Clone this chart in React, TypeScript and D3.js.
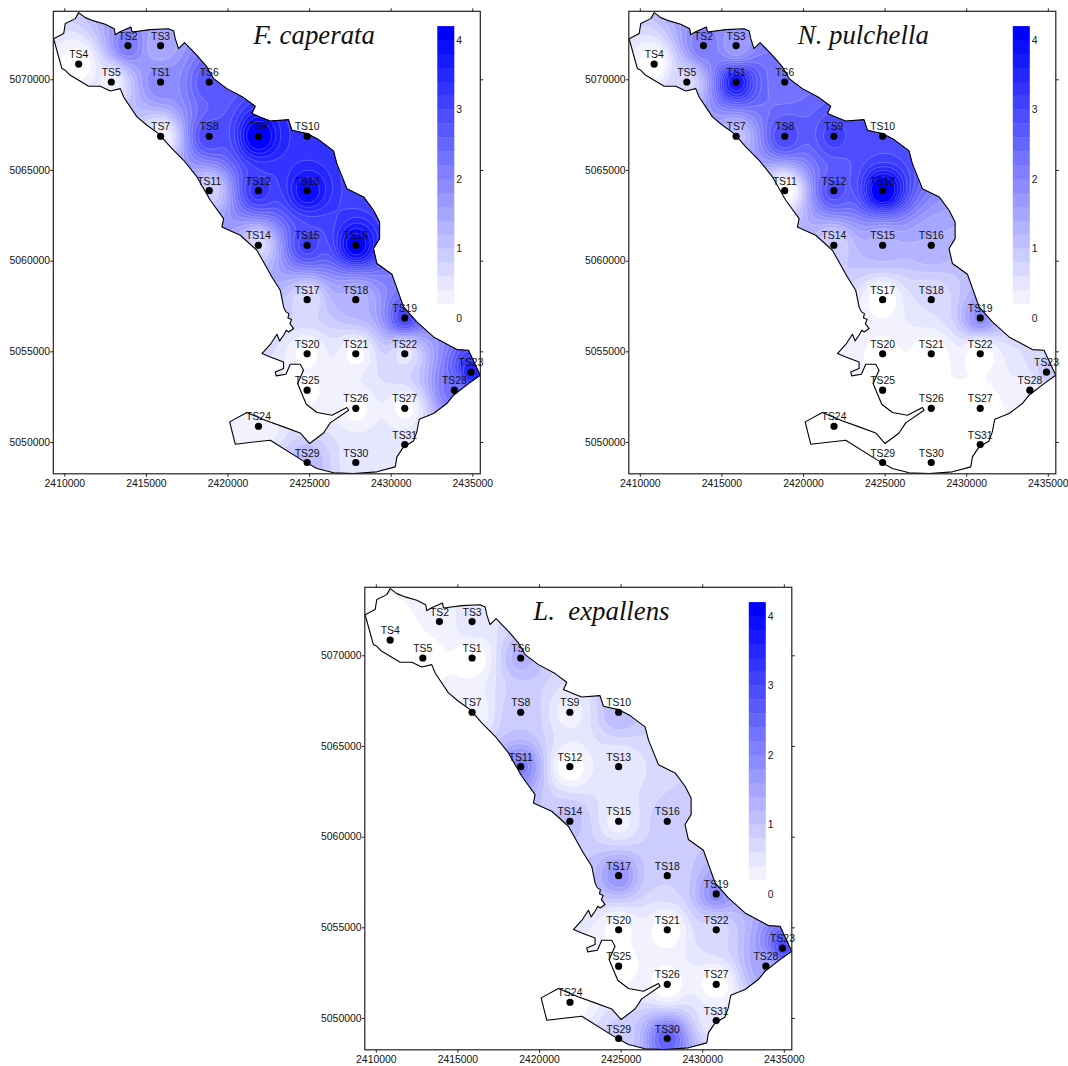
import React, { useEffect, useMemo, useRef } from "react";
import * as d3 from "d3";

// sampling stations (map metres)
const stationNames = ["TS1","TS2","TS3","TS4","TS5","TS6","TS7","TS8","TS9","TS10","TS11","TS12","TS13","TS14","TS15","TS16","TS17","TS18","TS19","TS20","TS21","TS22","TS23","TS24","TS25","TS26","TS27","TS28","TS29","TS30","TS31"];
const stationX = [2415900,2413900,2415900,2410880,2412880,2418880,2415900,2418880,2421890,2424880,2418880,2421890,2424880,2421890,2424880,2427860,2424880,2427860,2430860,2424880,2427860,2430860,2434920,2421900,2424880,2427860,2430860,2433900,2424880,2427860,2430860];
const stationY = [5069850,5071860,5071860,5070840,5069850,5069850,5066860,5066860,5066860,5066860,5063860,5063860,5063860,5060850,5060850,5060850,5057850,5057850,5056840,5054860,5054860,5054860,5053850,5050870,5052860,5051860,5051860,5052860,5048870,5048870,5049860];

// index of atmospheric purity per species, same order as stationNames
const caperata = [2.0,2.2,1.4,0,0.3,2.8,0.2,3.0,4.3,3.4,0.8,3.3,4.0,0.7,3.1,4.2,0.6,1.3,3.0,0.1,0.1,0.5,3.6,0.2,0.1,0.1,0.1,2.3,1.2,0.5,0.4];
const pulchella = [3.8,2.2,1.6,0,0.7,2.3,1.1,3.0,3.1,3.0,0,2.9,4.4,0.8,1.3,1.4,0,0.6,1.9,0.1,0,0,0.9,0.1,0.1,0,0,0.3,0.1,0,0];
const expallens = [0,0.25,0.6,0,0,1.3,0.2,1.0,0.3,1.2,2.1,0,0.4,1.1,0.3,0.9,1.8,0.8,1.9,0.1,0,0.7,2.9,0,0,0,0,1.5,0.9,2.6,0.4];

// coastline outline, map metres
const coast: [number, number][] = [
  [2410880,5073675],[2411290,5073400],[2411800,5073220],[2412510,5073030],[2413060,5072790],[2413120,5072460],[2413390,5072610],[2414080,5072885],[2414150,5072610],[2415270,5072740],
  [2416390,5072790],[2416700,5072665],[2416800,5072240],[2417000,5071690],[2417370,5072020],[2418130,5071320],[2418740,5070680],[2419150,5070040],[2419965,5069485],[2420985,5068990],
  [2421700,5068510],[2421500,5068110],[2422110,5067885],[2422620,5067700],[2423740,5067775],[2423950,5067190],[2424870,5067005],[2425580,5066675],[2426500,5066050],[2426700,5065350],
  [2427320,5063970],[2428340,5063515],[2428950,5062780],[2429320,5062135],[2429320,5061215],[2428950,5060665],[2429155,5059840],[2430075,5059250],[2430790,5057450],[2431605,5056620],
  [2432625,5055795],[2434055,5055095],[2434770,5055060],[2435485,5053680],[2434770,5053220],[2433850,5052580],[2433440,5052120],[2432625,5051570],[2431750,5051255],[2431600,5050560],
  [2431400,5050060],[2430790,5049730],[2430380,5049180],[2430280,5048630],[2429155,5048355],[2427725,5048260],[2426500,5048300],[2425480,5048535],[2424560,5049000],[2422620,5050100],
  [2420475,5049880],[2420130,5051110],[2421190,5051625],[2422310,5051200],[2423435,5050835],[2424455,5050500],[2425030,5049915],[2425885,5050500],[2426295,5051055],[2427420,5051750],
  [2427315,5051900],[2426400,5051475],[2425480,5051625],[2424825,5052085],[2424295,5053225],[2424660,5053960],[2424455,5054290],[2423845,5054290],[2423580,5053735],[2422985,5053645],
  [2422925,5053865],[2423435,5054050],[2423435,5054415],[2422620,5054690],[2422110,5054875],[2422660,5055430],[2423030,5055940],[2423190,5055575],[2423435,5055885],[2423600,5056165],
  [2423740,5056070],[2424050,5056255],[2423825,5056530],[2423925,5056750],[2423700,5056845],[2423765,5057080],[2423580,5057175],[2423435,5057450],[2423230,5058370],[2422720,5059100],
  [2421800,5060575],[2420780,5061400],[2419860,5061770],[2419660,5061860],[2419760,5062320],[2418945,5063330],[2418130,5064615],[2417310,5065535],[2416495,5066270],[2415780,5067005],
  [2415065,5067465],[2414450,5067925],[2413635,5069025],[2413430,5069485],[2412820,5069355],[2412205,5069615],[2411490,5069615],[2410880,5069945],[2410370,5070220],[2410060,5070495],
  [2409855,5070590],[2409655,5071230],[2409345,5072240],[2409960,5072520],[2410060,5073070],[2410675,5073345],
];

const xTicks = [2410000,2415000,2420000,2425000,2430000,2435000];
const yTicks = [5050000,5055000,5060000,5065000,5070000];
const legendTicks = [0,1,2,3,4];
const bandStep = 0.2;
const bandCount = 20;

const panelW = 427;
const panelH = 462.5;
const xDomain = [2409326, 2435490];
const yDomain = [5048247, 5073749];
const sans = "'Liberation Sans', Arial, sans-serif";

const bandColor = (k: number) => {
  const c = Math.round(255 * (1 - k / bandCount));
  return `rgb(${c},${c},255)`;
};

// inverse distance weighting between the stations
function idw(values: number[], power = 2.4) {
  return (x: number, y: number) => {
    let num = 0;
    let den = 0;
    for (let i = 0; i < values.length; i++) {
      const r = Math.hypot((x - stationX[i]) / 1000, (y - stationY[i]) / 1000);
      const wt = 1 / Math.pow(r + 1e-3, power);
      num += wt * values[i];
      den += wt;
    }
    return num / den;
  };
}

function Panel({ left, top, title, titleX, values, id }: { left: number; top: number; title: string; titleX: number; values: number[]; id: string }) {
  const xs = d3.scaleLinear().domain(xDomain).range([0, panelW]);
  const ys = d3.scaleLinear().domain(yDomain).range([panelH, 0]);
  const legendY = d3.scaleLinear().domain([0, 4]).range([306.7, 28.7]);

  const bottomRef = useRef<SVGGElement>(null);
  const topRef = useRef<SVGGElement>(null);
  const leftRef = useRef<SVGGElement>(null);
  const rightRef = useRef<SVGGElement>(null);

  useEffect(() => {
    const style = (g: d3.Selection<SVGGElement, unknown, null, undefined>) => {
      g.select(".domain").remove();
      g.selectAll("line").attr("stroke", "#222").attr("stroke-width", 1);
      g.selectAll("text").attr("fill", "#111").style("font-family", sans).style("font-size", "10.4px");
    };
    d3.select(bottomRef.current!).call(d3.axisBottom(xs).tickValues(xTicks).tickFormat(d3.format("d") as any).tickSize(3).tickPadding(2.6)).call(style);
    d3.select(topRef.current!).call(d3.axisTop(xs).tickValues(xTicks).tickFormat(() => "").tickSize(3)).call(style);
    d3.select(leftRef.current!).call(d3.axisLeft(ys).tickValues(yTicks).tickFormat(d3.format("d") as any).tickSize(3).tickPadding(0.3)).call(style);
    d3.select(rightRef.current!).call(d3.axisRight(ys).tickValues(yTicks).tickFormat(() => "").tickSize(3)).call(style);
  }, []);

  const { bands, coastPath } = useMemo(() => {
    const field = idw(values);
    const gx = 300;
    const gy = 325;
    const grid = new Array(gx * gy);
    const gridX = d3.scaleLinear().domain([0, gx - 1]).range(xDomain);
    const gridY = d3.scaleLinear().domain([0, gy - 1]).range(yDomain);
    for (let j = 0; j < gy; j++) {
      for (let i = 0; i < gx; i++) grid[j * gx + i] = field(gridX(i), gridY(j));
    }
    const thresholds = d3.range(1, bandCount + 1).map((k) => k * bandStep);
    const contours = d3.contours().size([gx, gy]).thresholds(thresholds)(grid);
    const path = d3.geoPath(
      d3.geoTransform({
        point(x: number, y: number) {
          this.stream.point(xs(gridX(x - 0.5)), ys(gridY(y - 0.5)));
        },
      })
    );
    const bands = contours.map((c, i) => ({ k: i + 1, d: path(c) || "" }));
    const coastPath = d3.line<[number, number]>().x((d) => xs(d[0])).y((d) => ys(d[1]))(coast) + "Z";
    return { bands, coastPath };
  }, [values]);

  return (
    <g transform={`translate(${left},${top})`}>
      <clipPath id={id}>
        <path d={coastPath} />
      </clipPath>
      <g clipPath={`url(#${id})`}>
        {bands.map((b) => (
          <path key={b.k} d={b.d} fill={bandColor(b.k)} stroke="#fff" strokeOpacity={0.33} strokeWidth={0.7} />
        ))}
      </g>
      <path d={coastPath} fill="none" stroke="#000" strokeWidth={1.1} strokeLinejoin="round" />

      {stationNames.map((name, i) => (
        <g key={name} transform={`translate(${xs(stationX[i])},${ys(stationY[i])})`}>
          <circle r={3.6} fill="#000" />
          <text y={-6} textAnchor="middle" fontFamily={sans} fontSize={10.4} fill="#111">{name}</text>
        </g>
      ))}

      {d3.range(1, bandCount + 1).map((k) => (
        <rect key={k} x={384} width={17} y={legendY(k * bandStep + bandStep)} height={legendY(k * bandStep) - legendY(k * bandStep + bandStep) + 0.3} fill={bandColor(k)} />
      ))}
      {legendTicks.map((t) => (
        <text key={t} x={403} y={legendY(t) + 3.7} fontFamily={sans} fontSize={10.4} fill="#222">{t}</text>
      ))}

      <text x={titleX} y={33} fontFamily="'Liberation Serif', 'Times New Roman', serif" fontStyle="italic" fontSize={26.8} fill="#111" style={{ whiteSpace: "pre" }}>{title}</text>

      <rect width={panelW} height={panelH} fill="none" stroke="#222" strokeWidth={1.2} />
      <g ref={bottomRef} transform={`translate(0,${panelH})`} />
      <g ref={topRef} />
      <g ref={leftRef} />
      <g ref={rightRef} transform={`translate(${panelW},0)`} />
    </g>
  );
}

export default function App() {
  return (
    <svg width={1068} height={1066} style={{ position: "absolute", left: 0, top: 0, display: "block" }}>
      <Panel id="clip-a" left={53.3} top={11.3} title="F. caperata" titleX={200} values={caperata} />
      <Panel id="clip-b" left={628.8} top={11.3} title="N. pulchella" titleX={169} values={pulchella} />
      <Panel id="clip-c" left={364.8} top={587.3} title="L.  expallens" titleX={168.5} values={expallens} />
    </svg>
  );
}
